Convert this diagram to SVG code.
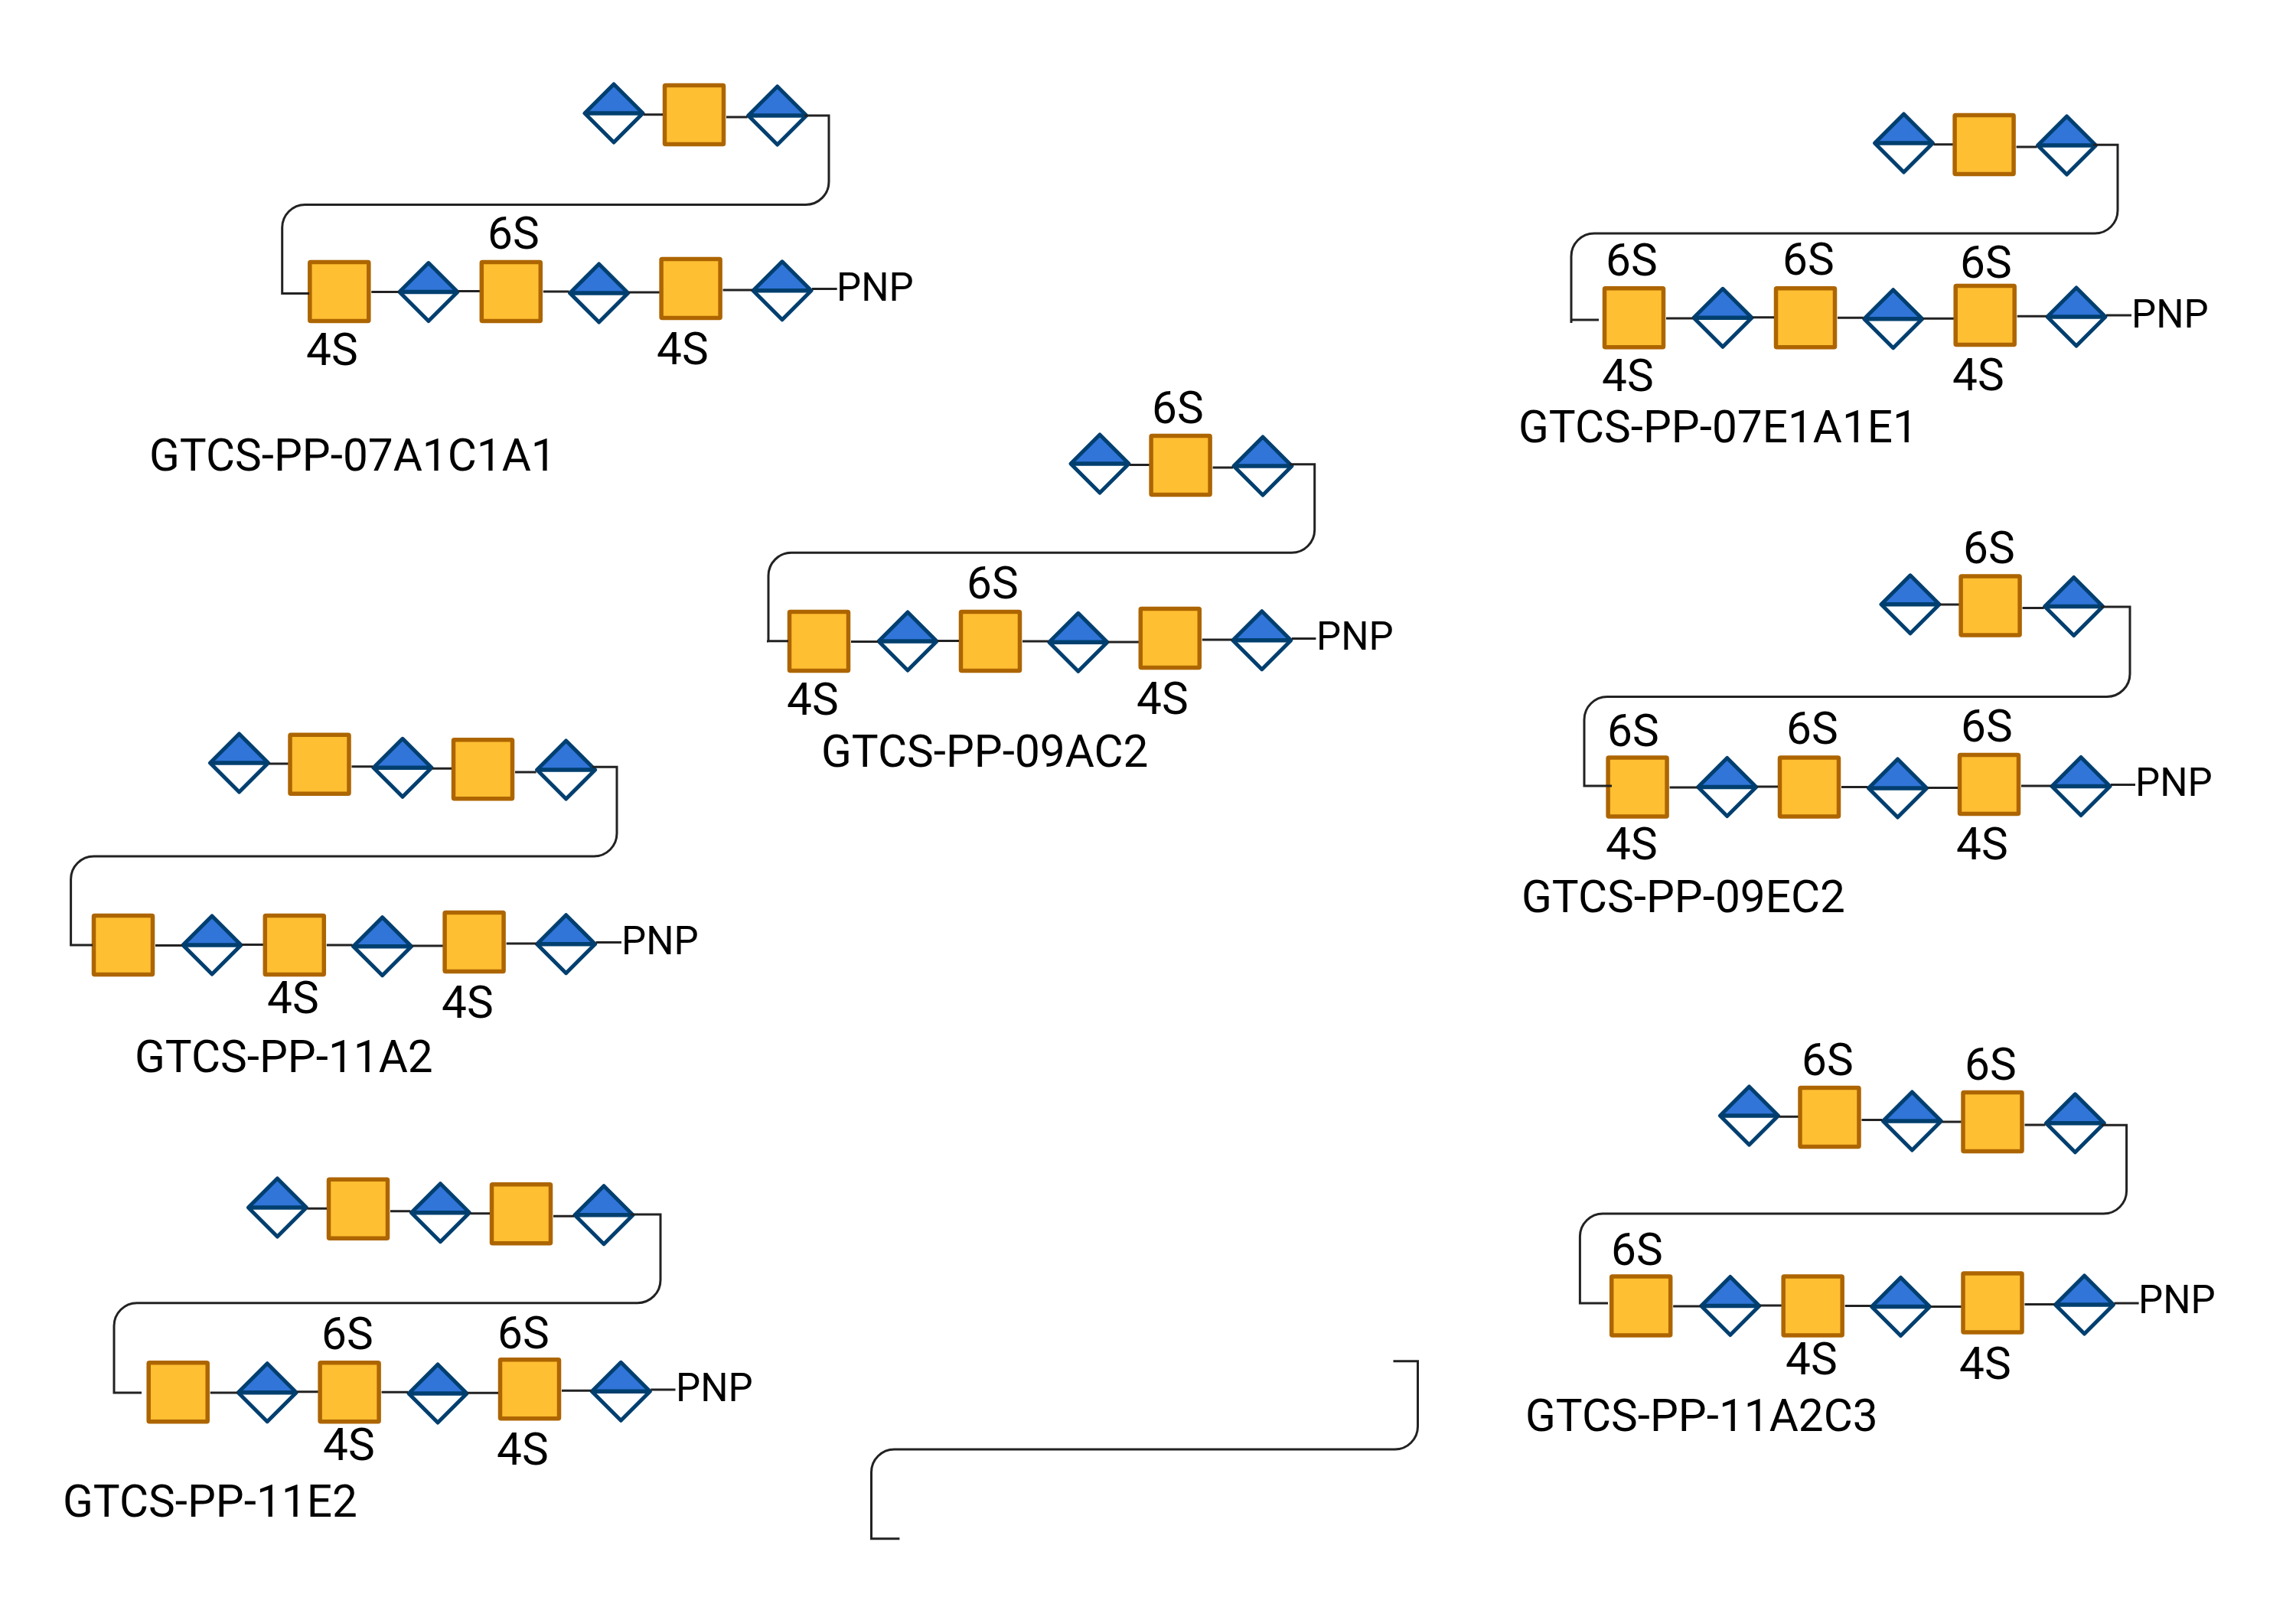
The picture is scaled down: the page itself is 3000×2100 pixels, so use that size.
<svg xmlns="http://www.w3.org/2000/svg" width="3000" height="2100" viewBox="0 0 3000 2100">
<style>
text{font-family:Roboto,"Liberation Sans",sans-serif;font-size:58.5px;fill:#000}
text.p{font-size:51px}
.c{fill:none;stroke:#222;stroke-width:3}
</style>
<defs>
<g id="sq"><rect x="-38.5" y="-38.5" width="77" height="77" rx="1" fill="#FFBF33" stroke="#AD6500" stroke-width="5.5"/></g>
<g id="di"><polygon points="-38,0 0,-38 38,0" fill="#3175D9"/><polygon points="-38,0 0,38 38,0" fill="#fff"/><path d="M-38 0H38" stroke="#003F6F" stroke-width="5.5" fill="none"/><polygon points="-38,0 0,-38 38,0 0,38" fill="none" stroke="#003F6F" stroke-width="5" stroke-linejoin="round"/></g>
</defs>
<rect width="3000" height="2100" fill="#fff"/>
<g id="nodes">
<g id="a1"><use href="#di" x="802" y="148"/></g><g id="a2"><use href="#sq" x="907" y="150"/></g><g id="a3"><use href="#di" x="1015.7" y="151"/></g>
<g id="a4"><use href="#sq" x="443.3" y="381"/></g><g id="a5"><use href="#di" x="559.9" y="381.6"/></g><g id="a6"><use href="#sq" x="667.8" y="381"/></g><g id="a7"><use href="#di" x="782.6" y="383"/></g><g id="a8"><use href="#sq" x="902.6" y="377"/></g><g id="a9"><use href="#di" x="1022" y="379.8"/></g>

<g id="b1"><use href="#di" x="1437" y="606"/></g><g id="b2"><use href="#sq" x="1542.6" y="608"/></g><g id="b3"><use href="#di" x="1650" y="609"/></g>
<g id="b4"><use href="#sq" x="1070" y="838"/></g><g id="b5"><use href="#di" x="1186" y="838"/></g><g id="b6"><use href="#sq" x="1294" y="838"/></g><g id="b7"><use href="#di" x="1408.8" y="839.3"/></g><g id="b8"><use href="#sq" x="1528.8" y="834"/></g><g id="b9"><use href="#di" x="1648.8" y="836.7"/></g>

<g id="c1"><use href="#di" x="2487.5" y="187"/></g><g id="c2"><use href="#sq" x="2592.6" y="189"/></g><g id="c3"><use href="#di" x="2700.5" y="190"/></g>
<g id="c4"><use href="#sq" x="2135" y="415.3"/></g><g id="c5"><use href="#di" x="2251" y="415.3"/></g><g id="c6"><use href="#sq" x="2359" y="415.3"/></g><g id="c7"><use href="#di" x="2473.7" y="416.7"/></g><g id="c8"><use href="#sq" x="2593.7" y="412"/></g><g id="c9"><use href="#di" x="2713" y="414"/></g>

<g id="d1"><use href="#di" x="2496" y="789.8"/></g><g id="d2"><use href="#sq" x="2600.6" y="791.5"/></g><g id="d3"><use href="#di" x="2709.7" y="792.5"/></g>
<g id="d4"><use href="#sq" x="2139.6" y="1028.5"/></g><g id="d5"><use href="#di" x="2256.7" y="1028.5"/></g><g id="d6"><use href="#sq" x="2364" y="1028.5"/></g><g id="d7"><use href="#di" x="2479.5" y="1030"/></g><g id="d8"><use href="#sq" x="2599" y="1025"/></g><g id="d9"><use href="#di" x="2719" y="1027.5"/></g>

<g id="e1"><use href="#di" x="2285.5" y="1458"/></g><g id="e2"><use href="#sq" x="2390.5" y="1460"/></g><g id="e3"><use href="#di" x="2498.4" y="1465"/></g><g id="e4"><use href="#sq" x="2603.5" y="1466"/></g><g id="e5"><use href="#di" x="2711.4" y="1467.8"/></g>
<g id="e6"><use href="#sq" x="2144.2" y="1706.5"/></g><g id="e7"><use href="#di" x="2260.8" y="1706.5"/></g><g id="e8"><use href="#sq" x="2368.7" y="1706.5"/></g><g id="e9"><use href="#di" x="2483.5" y="1707.5"/></g><g id="e10"><use href="#sq" x="2603.5" y="1702.5"/></g><g id="e11"><use href="#di" x="2723.5" y="1705"/></g>

<g id="f1"><use href="#di" x="312.5" y="997"/></g><g id="f2"><use href="#sq" x="417.5" y="998.7"/></g><g id="f3"><use href="#di" x="526" y="1003.3"/></g><g id="f4"><use href="#sq" x="631" y="1005.3"/></g><g id="f5"><use href="#di" x="739.6" y="1006"/></g>
<g id="f6"><use href="#sq" x="161" y="1235"/></g><g id="f7"><use href="#di" x="277" y="1235"/></g><g id="f8"><use href="#sq" x="384.8" y="1235"/></g><g id="f9"><use href="#di" x="499.6" y="1236.7"/></g><g id="f10"><use href="#sq" x="619.6" y="1231"/></g><g id="f11"><use href="#di" x="739.6" y="1233.7"/></g>

<g id="h1"><use href="#di" x="362.4" y="1578"/></g><g id="h2"><use href="#sq" x="468" y="1579.7"/></g><g id="h3"><use href="#di" x="575.4" y="1584.7"/></g><g id="h4"><use href="#sq" x="681" y="1586.3"/></g><g id="h5"><use href="#di" x="789" y="1587.7"/></g>
<g id="h6"><use href="#sq" x="232.7" y="1819.3"/></g><g id="h7"><use href="#di" x="349.2" y="1819.7"/></g><g id="h8"><use href="#sq" x="456.6" y="1819.3"/></g><g id="h9"><use href="#di" x="572" y="1821"/></g><g id="h10"><use href="#sq" x="692" y="1815.3"/></g><g id="h11"><use href="#di" x="811.3" y="1818.3"/></g>
</g>
<g id="connectors">
<path class="c" d="M841 149.7H866M949 153H976.7M1051 151H1083V237.4A30 30 0 0 1 1053 267.4H398.7A30 30 0 0 0 368.7 297.4V383.4H404M485.3 381.6H520.9M598.9 380.5H626.8M709.8 381H743.6M821.6 382H861.6M944.6 379H983M1061 377.6H1093.7"/>
<path class="c" d="M1476 607.5H1501.6M1584.6 611H1611M1685 606.7H1717.7V692.3A30 30 0 0 1 1687.7 722.3H1034A30 30 0 0 0 1004 752.3V837.7H1030M1002 838H1004M1112 838.6H1147M1225 837.5H1253M1336 838H1369.8M1447.8 839H1487.8M1570.8 836H1609.8M1687.8 834.6H1719.4"/>
<path class="c" d="M2526.5 188.7H2551.6M2634.6 192H2661.5M2735 189.3H2767V275A30 30 0 0 1 2737 305H2083A30 30 0 0 0 2053 335V422M2053 418H2089M2177 416H2212M2290 414.8H2318M2401 415.3H2434.7M2512.7 416.3H2552.7M2635.7 413.3H2674M2752 412H2785"/>
<path class="c" d="M2535 790H2559.6M2642.6 794.5H2670.7M2745 793H2783V880.4A30 30 0 0 1 2753 910.4H2100A30 30 0 0 0 2070 940.4V1027H2106M2181.6 1029H2217.7M2295.7 1028H2323M2406 1028.5H2440.5M2518.5 1029.5H2558M2641 1027H2680M2758 1025.5H2790"/>
<path class="c" d="M2324.5 1459.2H2349.5M2432.5 1463.5H2459.4M2537.4 1466H2562.5M2645.5 1470H2672.4M2746 1470.3H2778.6V1556A30 30 0 0 1 2748.6 1586H2094.4A30 30 0 0 0 2064.4 1616V1703H2101M2186.2 1707H2221.8M2299.8 1706H2327.7M2410.7 1706.5H2444.5M2522.5 1707.5H2562.5M2645.5 1704.5H2684.5M2762.5 1703H2794.6"/>
<path class="c" d="M351.5 998H376.5M459.5 1001.7H487M565 1004.3H590M673 1009H700.6M774 1002.3H806V1089A30 30 0 0 1 776 1119H122.6A30 30 0 0 0 92.6 1149V1235H121M203 1235.6H238M316 1234.5H343.8M426.8 1235H460.6M538.6 1236H578.6M661.6 1233H700.6M778.6 1231.6H812"/>
<path class="c" d="M401.4 1579.3H427M510 1582.7H536.4M614.4 1585.7H640M723 1589.3H750M824 1587H863V1672.7A30 30 0 0 1 833 1702.7H179A30 30 0 0 0 149 1732.7V1820H185M274.7 1820H310.2M388.2 1818.8H415.6M498.6 1819.3H533M611 1820.3H651M734 1817.3H772.3M850.3 1816H882.5"/>
<path class="c" d="M1820.5 1778.7H1852.5V1864A30 30 0 0 1 1822.5 1894H1168.5A30 30 0 0 0 1138.5 1924V2010.7H1175.4"/>
</g>
<g id="labels" transform="translate(-1,1.5)">
<text x="638" y="323">6S</text><text x="401" y="475">4S</text><text x="859" y="474">4S</text><text class="p" x="1094" y="391">PNP</text><text x="196" y="613">GTCS-PP-07A1C1A1</text>
<text x="1506" y="551">6S</text><text x="1264" y="780">6S</text><text x="1029" y="932">4S</text><text x="1486" y="931">4S</text><text class="p" x="1721" y="847">PNP</text><text x="1074" y="1000">GTCS-PP-09AC2</text>
<text x="2099" y="358">6S</text><text x="2330" y="357">6S</text><text x="2562" y="361">6S</text><text x="2094" y="509">4S</text><text x="2552" y="508">4S</text><text class="p" x="2786" y="426">PNP</text><text x="1985" y="576">GTCS-PP-07E1A1E1</text>
<text x="2566" y="734">6S</text><text x="2101" y="973">6S</text><text x="2335" y="970">6S</text><text x="2563" y="967">6S</text><text x="2099" y="1121">4S</text><text x="2557" y="1121">4S</text><text class="p" x="2791" y="1038">PNP</text><text x="1989" y="1190">GTCS-PP-09EC2</text>
<text x="2355" y="1403">6S</text><text x="2568" y="1409">6S</text><text x="2106" y="1651">6S</text><text x="2334" y="1794">4S</text><text x="2561" y="1800">4S</text><text class="p" x="2795" y="1714">PNP</text><text x="1994" y="1868">GTCS-PP-11A2C3</text>
<text x="350" y="1322">4S</text><text x="578" y="1328">4S</text><text class="p" x="813" y="1245">PNP</text><text x="177" y="1399">GTCS-PP-11A2</text>
<text x="421" y="1761">6S</text><text x="651" y="1760">6S</text><text x="423" y="1906">4S</text><text x="650" y="1912">4S</text><text class="p" x="884" y="1829">PNP</text><text x="83" y="1980">GTCS-PP-11E2</text>
</g>
</svg>
